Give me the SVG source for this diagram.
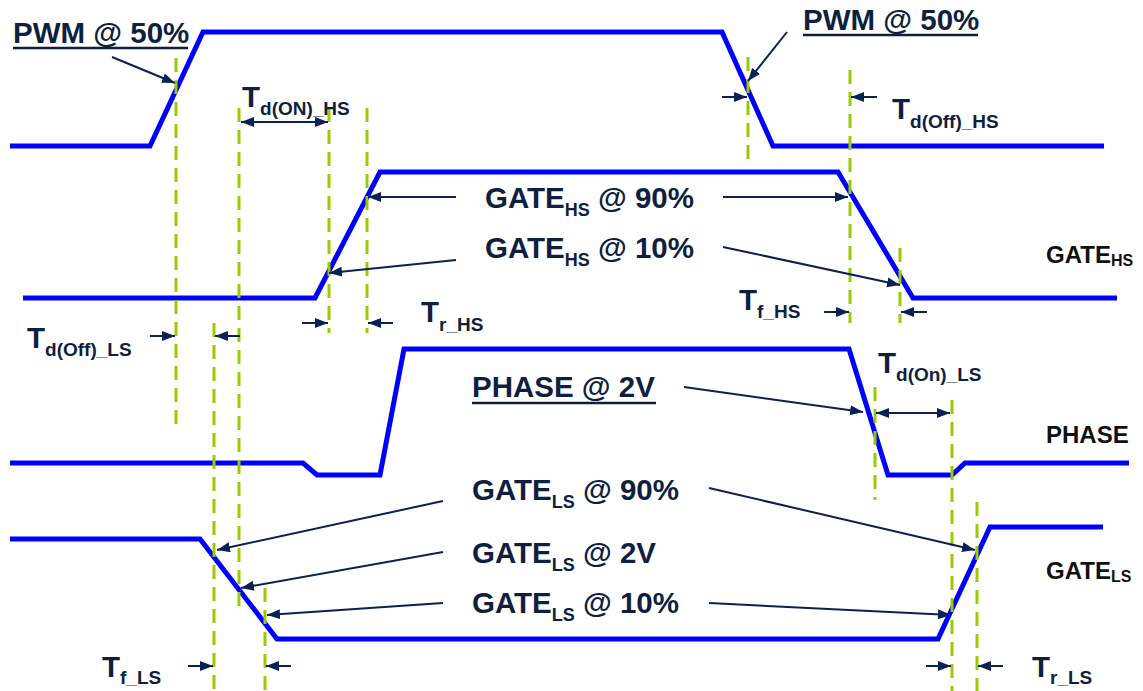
<svg xmlns="http://www.w3.org/2000/svg" width="1143" height="691" viewBox="0 0 1143 691">
<style>
.wave{fill:none;stroke:#0000ff;stroke-width:5;stroke-linejoin:miter;stroke-miterlimit:4}
.guide{stroke:#99cc00;stroke-width:3;stroke-dasharray:14 8;fill:none}
.arr{stroke:#0c2058;stroke-width:2;fill:none;marker-end:url(#ah)}
.dbl{stroke:#0c2058;stroke-width:2;fill:none;marker-end:url(#ah);marker-start:url(#ahs)}
.lbl{font-family:"Liberation Sans",Arial,Helvetica,sans-serif;font-weight:bold;font-size:29.5px;fill:#0f1f40}
.sig{font-family:"Liberation Sans",Arial,Helvetica,sans-serif;font-weight:bold;font-size:24px;fill:#111111}
.ul{stroke:#0f1f40;stroke-width:2.5}
</style>
<defs>
<marker id="ah" markerUnits="userSpaceOnUse" markerWidth="14" markerHeight="12" refX="13" refY="5" orient="auto">
<path d="M0,0 L13,5 L0,10 z" fill="#0c2058"/>
</marker>
<marker id="ahs" markerUnits="userSpaceOnUse" markerWidth="14" markerHeight="12" refX="13" refY="5" orient="auto-start-reverse">
<path d="M0,0 L13,5 L0,10 z" fill="#0c2058"/>
</marker>
</defs>
<rect width="1143" height="691" fill="#ffffff"/>

<g id="waveforms">
<g id="wave-pwm"><path class="wave" d="M10,146 L150,146 L203,32 L722,32 L773,146 L1104,146"/></g>
<g id="wave-gatehs"><path class="wave" d="M23,298 L315,298 L380,172 L838,172 L913,298 L1117,298"/></g>
<g id="wave-phase"><path class="wave" d="M10,463 L303,463 L317,475 L380,475 L404,349 L849,349 L888,475 L952,475 L965,463 L1129,463"/></g>
<g id="wave-gatels"><path class="wave" d="M10,539 L200,539 L277,639 L938,639 L990,527 L1103,527"/></g>
</g>

<g id="guides">
<line class="guide" x1="176" y1="58" x2="176" y2="425"/>
<line class="guide" x1="239" y1="108" x2="239" y2="610"/>
<line class="guide" x1="329" y1="108" x2="329" y2="333"/>
<line class="guide" x1="367" y1="108" x2="367" y2="333"/>
<line class="guide" x1="214" y1="323" x2="214" y2="691"/>
<line class="guide" x1="265" y1="588" x2="265" y2="691"/>
<line class="guide" x1="748" y1="57" x2="748" y2="160"/>
<line class="guide" x1="850" y1="70" x2="850" y2="323"/>
<line class="guide" x1="900" y1="248" x2="900" y2="323"/>
<line class="guide" x1="875" y1="387" x2="875" y2="500"/>
<line class="guide" x1="952" y1="400" x2="952" y2="691"/>
<line class="guide" x1="977" y1="502" x2="977" y2="691"/>
</g>

<g id="connectors">
<line class="arr" x1="112" y1="57" x2="175" y2="83"/>
<line class="arr" x1="787" y1="32" x2="748" y2="81"/>
<line class="dbl" x1="241" y1="122" x2="328" y2="122"/>
<line class="arr" x1="722" y1="97" x2="747" y2="97"/>
<line class="arr" x1="877" y1="97" x2="851" y2="97"/>
<line class="arr" x1="456" y1="197" x2="368" y2="197"/>
<line class="arr" x1="723" y1="197" x2="848" y2="197"/>
<line class="arr" x1="456" y1="260" x2="329" y2="273"/>
<line class="arr" x1="723" y1="247" x2="900" y2="285"/>
<line class="arr" x1="302" y1="323" x2="328" y2="323"/>
<line class="arr" x1="393" y1="323" x2="368" y2="323"/>
<line class="arr" x1="824" y1="312" x2="849" y2="312"/>
<line class="arr" x1="927" y1="312" x2="901" y2="312"/>
<line class="arr" x1="150" y1="336" x2="175" y2="336"/>
<line class="arr" x1="240" y1="336" x2="215" y2="336"/>
<line class="arr" x1="684" y1="387" x2="863" y2="412"/>
<line class="dbl" x1="876" y1="413" x2="950" y2="413"/>
<line class="arr" x1="443" y1="501" x2="217" y2="550"/>
<line class="arr" x1="709" y1="488" x2="975" y2="550"/>
<line class="arr" x1="443" y1="552" x2="241" y2="588"/>
<line class="arr" x1="443" y1="603" x2="267" y2="615"/>
<line class="arr" x1="709" y1="603" x2="951" y2="615"/>
<line class="arr" x1="188" y1="666" x2="213" y2="666"/>
<line class="arr" x1="291" y1="666" x2="266" y2="666"/>
<line class="arr" x1="926" y1="666" x2="951" y2="666"/>
<line class="arr" x1="1003" y1="666" x2="978" y2="666"/>
</g>

<g id="label-pwm-left">
<text class="lbl" x="13" y="43">PWM @ 50%</text>
<line class="ul" x1="13" y1="48" x2="188" y2="48"/>
</g>
<g id="label-pwm-right">
<text class="lbl" x="803" y="30">PWM @ 50%</text>
<line class="ul" x1="803" y1="35" x2="978" y2="35"/>
</g>
<g id="label-tdon-hs"><text class="lbl" x="242" y="107">T<tspan font-size="19" dy="8">d(ON)_HS</tspan></text></g>
<g id="label-tdoff-hs"><text class="lbl" x="892" y="119">T<tspan font-size="19" dy="9">d(Off)_HS</tspan></text></g>
<g id="label-gatehs90"><text class="lbl" x="485" y="208">GATE<tspan font-size="18" dy="8">HS</tspan><tspan dy="-8"> @ 90%</tspan></text></g>
<g id="label-gatehs10"><text class="lbl" x="485" y="258">GATE<tspan font-size="18" dy="8">HS</tspan><tspan dy="-8"> @ 10%</tspan></text></g>
<g id="label-tr-hs"><text class="lbl" x="421" y="322">T<tspan font-size="19" dy="9">r_HS</tspan></text></g>
<g id="label-tf-hs"><text class="lbl" x="739" y="310">T<tspan font-size="19" dy="8">f_HS</tspan></text></g>
<g id="label-tdoff-ls"><text class="lbl" x="27" y="348">T<tspan font-size="19" dy="8">d(Off)_LS</tspan></text></g>
<g id="label-phase2v">
<text class="lbl" x="472" y="397">PHASE @ 2V</text>
<line class="ul" x1="472" y1="403" x2="656" y2="403"/>
</g>
<g id="label-tdon-ls"><text class="lbl" x="878" y="373">T<tspan font-size="19" dy="8">d(On)_LS</tspan></text></g>
<g id="label-gatels90"><text class="lbl" x="472" y="500">GATE<tspan font-size="18" dy="8">LS</tspan><tspan dy="-8"> @ 90%</tspan></text></g>
<g id="label-gatels2v"><text class="lbl" x="472" y="563">GATE<tspan font-size="18" dy="8">LS</tspan><tspan dy="-8"> @ 2V</tspan></text></g>
<g id="label-gatels10"><text class="lbl" x="472" y="613">GATE<tspan font-size="18" dy="8">LS</tspan><tspan dy="-8"> @ 10%</tspan></text></g>
<g id="label-tf-ls"><text class="lbl" x="102" y="677">T<tspan font-size="19" dy="7">f_LS</tspan></text></g>
<g id="label-tr-ls"><text class="lbl" x="1032" y="677">T<tspan font-size="19" dy="7">r_LS</tspan></text></g>
<g id="sig-gatehs"><text class="sig" x="1046" y="263">GATE<tspan font-size="16" dy="3">HS</tspan></text></g>
<g id="sig-phase"><text class="sig" x="1046" y="443">PHASE</text></g>
<g id="sig-gatels"><text class="sig" x="1046" y="579">GATE<tspan font-size="16" dy="3">LS</tspan></text></g>
</svg>
